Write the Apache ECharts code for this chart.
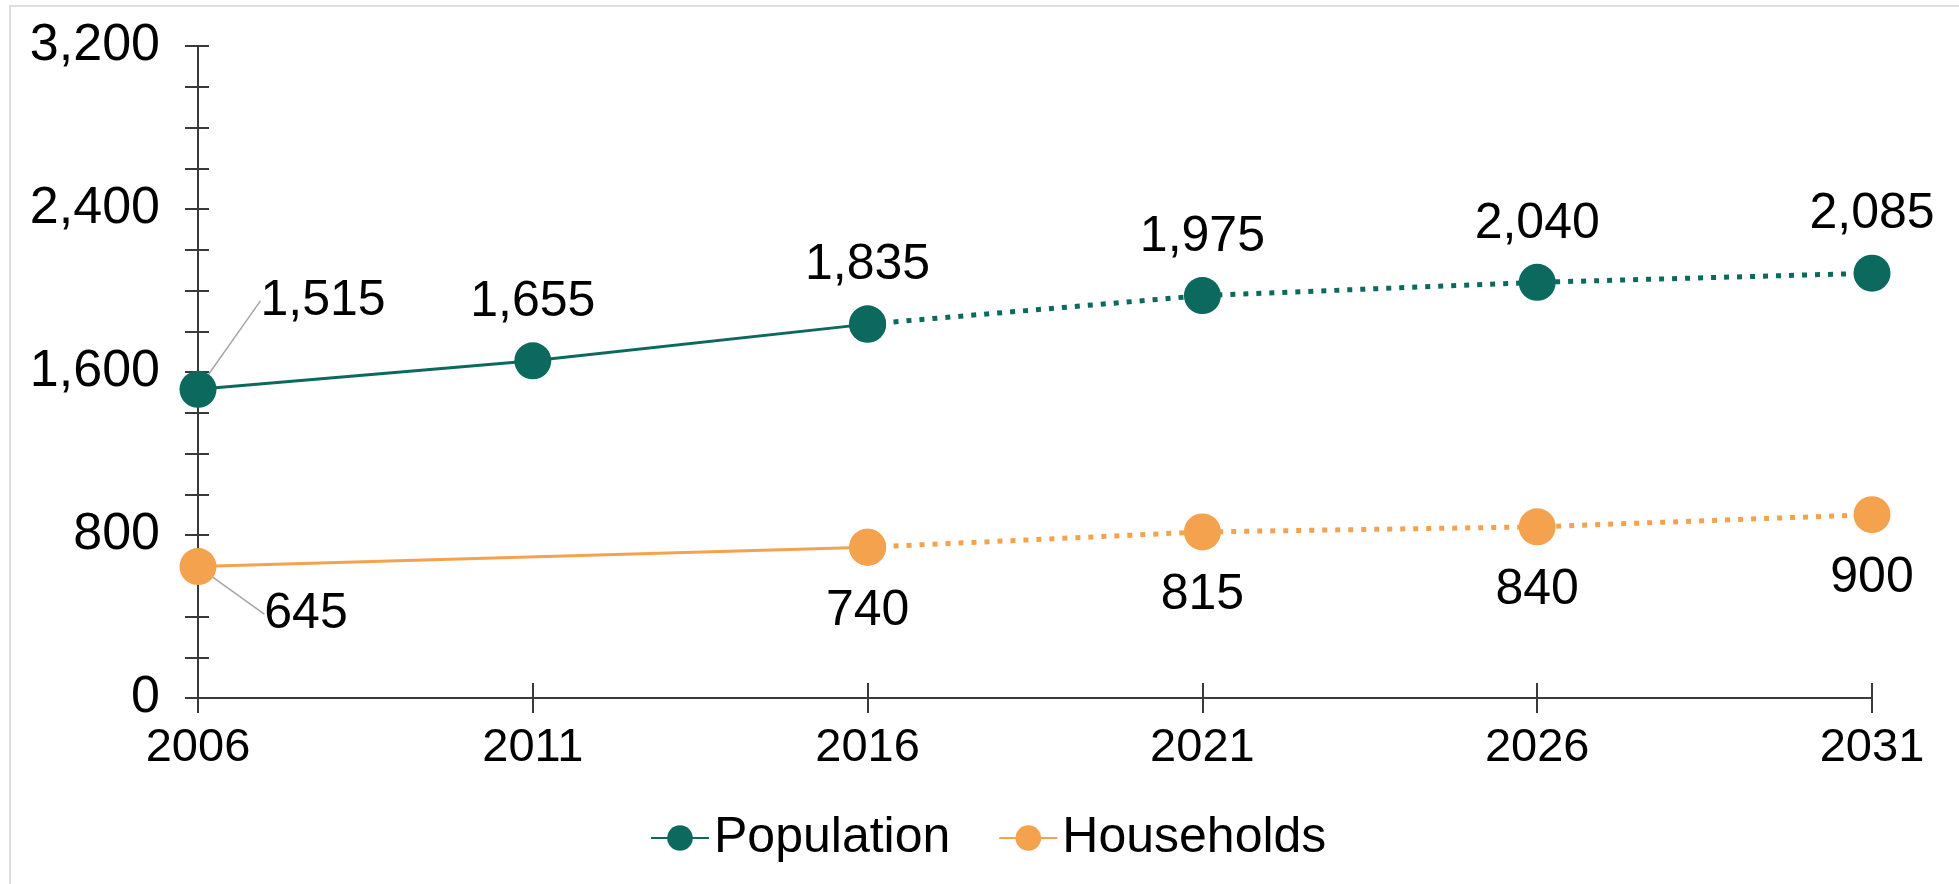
<!DOCTYPE html>
<html><head><meta charset="utf-8">
<script src="https://cdn.jsdelivr.net/npm/echarts@6/dist/echarts.min.js"></script>
<style>html,body{margin:0;padding:0;background:#fff}#c{width:1959px;height:884px}</style>
</head><body><div id="c"></div>
<script>
// ---- data ----
const years = ['2006', '2011', '2016', '2021', '2026', '2031'];
const population = [1515, 1655, 1835, 1975, 2040, 2085];
const households = [645, null, 740, 815, 840, 900];
const lastActualIndex = 2; // 2016: solid line up to here, projected (dotted) after
const yMin = 0, yMax = 3200, yMinorStep = 200, yLabelStep = 800;

const TEAL = '#0b6a5d';
const ORANGE = '#f4a24d';
const FONT = 'Liberation Sans, Arial, Helvetica, sans-serif';

const solidPart = arr => arr.map((v, i) => i <= lastActualIndex ? v : null);
const dottedPart = arr => arr.map((v, i) => i >= lastActualIndex ? v : null);
const fmt = v => (v == null ? '' : Number(v).toLocaleString('en-US'));

function makeSeries(name, values, color, labelPos, dist, firstShift) {
  const labelBase = {
    show: true, position: labelPos, distance: dist,
    fontSize: 50, fontFamily: FONT, color: '#000'
  };
  const solidData = solidPart(values).map((v, i) => i === 0
    ? { value: v, labelLine: { show: true, lineStyle: { color: '#a6a6a6', width: 1.5 } } }
    : v);
  return [
    {
      name, type: 'line', data: solidData, connectNulls: true,
      symbol: 'circle', symbolSize: 37, color,
      itemStyle: { color },
      lineStyle: { color, width: 3, type: 'solid' },
      label: Object.assign({}, labelBase, { formatter: p => fmt(p.value) }),
      labelLine: { show: false },
      labelLayout: p => p.dataIndex === 0 ? { dx: firstShift[0], dy: firstShift[1] } : {},
      z: 3
    },
    {
      name, type: 'line', data: dottedPart(values),
      symbol: 'circle', symbolSize: 37, color,
      itemStyle: { color },
      lineStyle: { color, width: 5, type: [5, 8] },
      label: Object.assign({}, labelBase, {
        formatter: p => p.dataIndex === lastActualIndex ? '' : fmt(p.value)
      }),
      z: 2
    }
  ];
}

const chart = echarts.init(document.getElementById('c'), null, { renderer: 'canvas' });
const axisColor = '#3a3a3a';

chart.setOption({
  animation: false,
  backgroundColor: '#fff',
  graphic: [{
    type: 'rect', shape: { x: 10, y: 6, width: 1960, height: 900 },
    style: { fill: 'none', stroke: '#d4d4d4', lineWidth: 1.5 }, silent: true
  }],
  grid: { left: 198, right: 87, top: 46, bottom: 186, containLabel: false },
  legend: {
    left: 645, top: 808,
    itemWidth: 58, itemHeight: 32, itemGap: 48,
    textStyle: { fontSize: 50, fontFamily: FONT, color: '#000' },
    data: ['Population', 'Households']
  },
  xAxis: [{
    type: 'category', data: years, boundaryGap: false,
    axisLine: { lineStyle: { color: axisColor, width: 2 } },
    axisTick: { show: true, length: 15, alignWithLabel: true, lineStyle: { color: axisColor, width: 2 } },
    axisLabel: { margin: 27, fontSize: 47, fontFamily: FONT, color: '#000' },
    splitLine: { show: false }
  }, {
    type: 'category', data: years, boundaryGap: false, position: 'bottom',
    axisLine: { show: false },
    axisTick: { show: true, inside: true, length: 15, lineStyle: { color: axisColor, width: 2 } },
    axisLabel: { show: false }, splitLine: { show: false }
  }],
  yAxis: [{
    type: 'value', min: yMin, max: yMax, interval: yMinorStep,
    axisLine: { show: true, lineStyle: { color: axisColor, width: 2 } },
    axisTick: { show: true, length: 13, lineStyle: { color: axisColor, width: 2 } },
    axisLabel: {
      margin: 38, fontSize: 52, fontFamily: FONT, color: '#000',
      formatter: v => (v % yLabelStep === 0 ? fmt(v) : '')
    },
    splitLine: { show: false }
  }, {
    type: 'value', min: yMin, max: yMax, interval: yMinorStep, position: 'left',
    axisLine: { show: false },
    axisTick: { show: true, inside: true, length: 11, lineStyle: { color: axisColor, width: 2 } },
    axisLabel: { show: false }, splitLine: { show: false }
  }],
  series: [
    ...makeSeries('Population', population, TEAL, 'top', 15, [125, -30]),
    ...makeSeries('Households', households, ORANGE, 'bottom', 20, [108, -16])
  ]
});
</script></body></html>
